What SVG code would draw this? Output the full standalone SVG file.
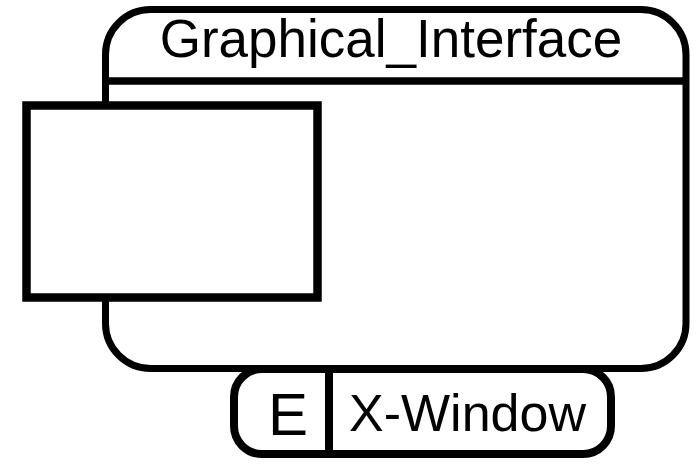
<svg xmlns="http://www.w3.org/2000/svg" width="698" height="465" viewBox="0 0 698 465">
  <style>
    .box { fill: #ffffff; stroke: #000000; }
    .line { stroke: #000000; fill: none; }
    .label { font-family: "Liberation Sans", Arial, sans-serif; fill: #000000; text-anchor: middle; }
  </style>
  <rect width="698" height="465" fill="#ffffff"/>

  <!-- Package: Graphical_Interface -->
  <g id="graphical-interface">
    <rect class="box" x="105.5" y="9.5" width="580.5" height="359" rx="45" ry="45" stroke-width="7"/>
    <line class="line" x1="105.5" y1="81" x2="686" y2="81" stroke-width="7.5"/>
    <text class="label" x="391" y="56.5" font-size="53">Graphical_Interface</text>
  </g>

  <!-- Inner component -->
  <g id="inner-component">
    <rect class="box" x="26.5" y="105.5" width="291" height="192" stroke-width="8.5"/>
  </g>

  <!-- External element: X-Window -->
  <g id="x-window">
    <rect class="box" x="234" y="369" width="377" height="85" rx="28" ry="28" stroke-width="8"/>
    <line class="line" x1="329" y1="369" x2="329" y2="454" stroke-width="8"/>
    <text class="label" x="288" y="435" font-size="60">E</text>
    <text class="label" x="467.5" y="430.5" font-size="52">X-Window</text>
  </g>

  <g id="connectors"/>
</svg>
